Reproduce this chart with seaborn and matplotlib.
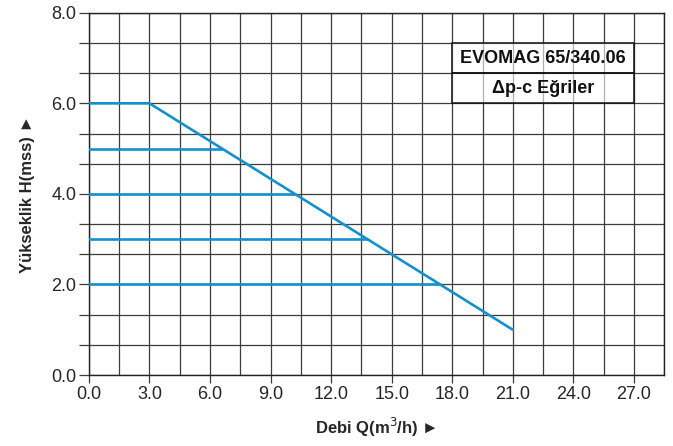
import numpy as np
import pandas as pd
import matplotlib
matplotlib.use("Agg")
import matplotlib.pyplot as plt
from matplotlib.patches import Rectangle
import seaborn as sns

# ---- data ----
max_q = [0.0, 3.0, 21.0]          # max curve flow (m3/h)
max_h = [6.0, 6.0, 1.0]           # max curve head (m)
levels = [5.0, 4.0, 3.0, 2.0]     # constant dp set-points (m)
level_end_q = [6.6, 10.2, 13.8, 17.4]  # flow where each set-point meets max curve

x_ticks = [0.0, 3.0, 6.0, 9.0, 12.0, 15.0, 18.0, 21.0, 24.0, 27.0]
y_ticks = [0.0, 2.0, 4.0, 6.0, 8.0]
title_lines = ["EVOMAG 65/340.06", "\u0394p-c E\u011friler"]

# ---- build long table ----
rows = []
for q, h in zip(max_q, max_h):
    rows.append({"curve": "max", "Q": q, "H": h})
for lv, qe in zip(levels, level_end_q):
    rows.append({"curve": f"h{lv}", "Q": 0.0, "H": lv})
    rows.append({"curve": f"h{lv}", "Q": qe, "H": lv})
df = pd.DataFrame(rows)

sns.set_style("white")
plt.rcParams["font.family"] = ["Liberation Sans", "DejaVu Sans"]

fig = plt.figure(figsize=(6.73, 4.46), dpi=100)
ax = fig.add_axes([0.132, 0.159, 0.855, 0.8125])

blue = "#1490cc"
sns.lineplot(data=df, x="Q", y="H", units="curve", estimator=None, sort=False,
             color=blue, linewidth=1.9, ax=ax, zorder=5, legend=False)

ax.set_xlim(0, 28.5)
ax.set_ylim(0, 8)
ax.set_xticks(x_ticks)
ax.set_xticklabels([f"{v:.1f}" for v in x_ticks])
ax.set_xticks(np.arange(0, 28.51, 1.5), minor=True)
ax.set_yticks(y_ticks)
ax.set_yticklabels([f"{v:.1f}" for v in y_ticks])
ax.set_yticks(np.linspace(0, 8, 13), minor=True)

gc = "#3c3c3c"
ax.grid(which="both", color=gc, linewidth=0.9, zorder=1)
ax.set_axisbelow(True)
for s in ax.spines.values():
    s.set_color("#222222")
    s.set_linewidth(1.0)

ax.tick_params(axis="x", which="major", length=6, width=0.9, color=gc,
               labelsize=13, pad=2, direction="out", bottom=True)
ax.tick_params(axis="x", which="minor", length=0)
ax.tick_params(axis="y", which="both", length=7, width=0.9, color=gc,
               labelsize=13, pad=2, direction="out", left=True)

ax.set_xlabel("Debi Q(m$^3$/h) \u25BA", fontsize=12, fontweight="bold", labelpad=9)
ax.set_ylabel("Y\u00fckseklik H(mss) \u25BA", fontsize=12, fontweight="bold", labelpad=12)

# title box
for i, t in enumerate(title_lines):
    y0 = 6.0 + (1 - i) * (2 / 3)
    ax.add_patch(Rectangle((18.0, y0), 9.0, 2 / 3, facecolor="white", alpha=0.6,
                           edgecolor="none", zorder=3))
    ax.add_patch(Rectangle((18.0, y0), 9.0, 2 / 3, facecolor="none",
                           edgecolor="#111111", linewidth=1.1, zorder=4))
    ax.text(22.5, y0 + 1 / 3, t, ha="center", va="center", fontsize=13,
            fontweight="bold", color="#111111", zorder=6)

fig.savefig("out.png", dpi=100)
